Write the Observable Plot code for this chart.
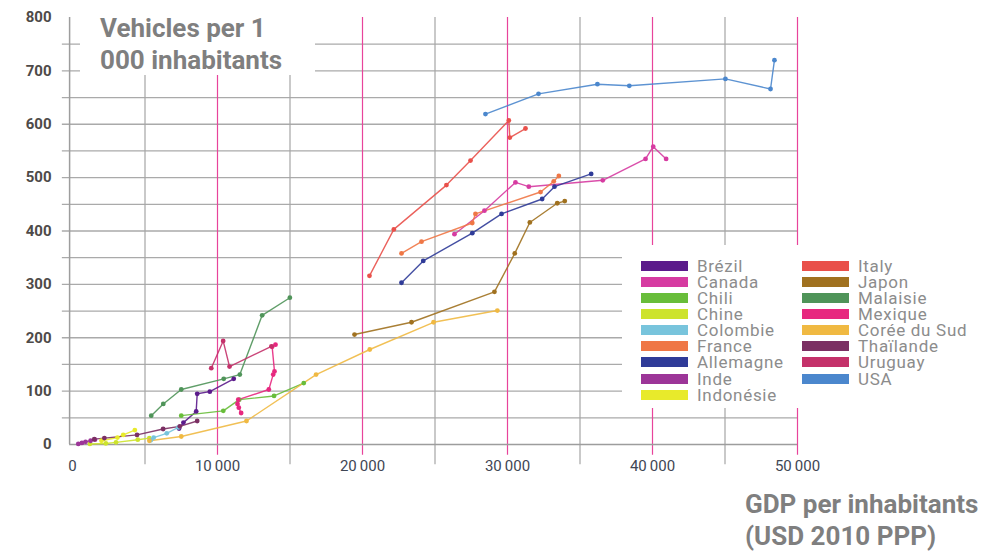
<!DOCTYPE html>
<html><head><meta charset="utf-8">
<script src="https://cdn.jsdelivr.net/npm/d3@7"></script>
<script src="https://cdn.jsdelivr.net/npm/@observablehq/plot@0.6"></script>
<style>
body{margin:0;background:#fff;}
#wrap{position:relative;width:991px;height:551px;overflow:hidden;font-family:Roboto,sans-serif;}
#chart{position:absolute;left:0;top:0;}
.box{position:absolute;background:#fff;}
.ttl{position:absolute;font-weight:700;color:#7f7f7f;font-size:26px;line-height:32px;white-space:nowrap;}
.sw{position:absolute;width:47px;height:10px;}
.lt{position:absolute;font-size:17px;letter-spacing:0.7px;color:#8c8c8c;line-height:16px;white-space:nowrap;}
</style></head>
<body>
<div id="wrap">
  <div id="chart"></div>
  <div class="box" style="left:80px;top:8px;width:235px;height:67px;"></div>
  <div class="ttl" style="left:100px;top:12px;">Vehicles per 1<br>000 inhabitants</div>
  <div class="ttl" style="left:745px;top:488px;">GDP per inhabitants<br>(USD 2010 PPP)</div>
  <div class="box" id="legend" style="left:622px;top:245px;width:369px;height:163px;"></div>
</div>
<script>
// Vehicles per 1000 inhabitants vs GDP per inhabitant (USD 2010 PPP)
const countries = ["Brézil","Canada","Chili","Chine","Colombie","France","Allemagne","Inde","Indonésie",
                   "Italy","Japon","Malaisie","Mexique","Corée du Sud","Thaïlande","Uruguay","USA"];
const colors = ["#5b1a8b","#d63ba1","#68bd3a","#cde32c","#78c4dc","#ef7746","#2f3b98","#9c3598","#e8ea2b",
                "#e9504a","#a0711f","#4f9459","#e7287f","#f0b942","#7b2f63","#c4316a","#4b87cd"];

// [GDP per inhabitant, vehicles per 1000]
const bresil    = [[7350,30],[7650,41],[8530,62],[8600,95],[9470,99],[11120,123]];
const canada    = [[26340,394],[28410,438],[30550,491],[31470,483],[36570,495],[39520,535],[40050,558],[40940,535]];
const chili     = [[7500,54],[10400,63],[11500,84],[13900,91],[15950,115]];
const chine     = [[1200,1],[2300,2],[3000,4],[4500,9],[5300,12]];
const colombie  = [[5400,8],[5600,13],[6500,21],[7300,32]];
const france    = [[22690,358],[24070,380],[27570,415],[27790,432],[32280,473],[33190,493],[33540,503]];
const allemagne = [[22690,303],[24190,344],[27570,396],[29590,432],[32390,460],[33240,483],[35770,507]];
const inde      = [[400,1],[650,3],[900,5],[1250,7],[1550,9]];
const indonesie = [[2000,7],[3100,13],[3500,18],[4300,27]];
const italy     = [[20480,316],[22160,403],[25790,486],[27450,532],[30090,607],[30160,575],[31240,592]];
const japon     = [[19450,206],[23380,229],[29100,286],[30500,358],[31540,416],[33430,452],[33950,456]];
const malaisie  = [[5430,54],[6260,76],[7500,103],[10430,123],[11540,131],[13080,242],[14990,275]];
const mexique   = [[11630,59],[11470,69],[11380,76],[11430,84],[13540,103],[13840,131],[13930,137],[13770,183],[14000,187]];
const coree     = [[5300,7],[7500,15],[12000,44],[16800,131],[20500,178],[24900,229],[29300,251]];
const thailande = [[1500,10],[2200,12],[4450,18],[6250,29],[7400,34],[8600,44]];
const uruguay   = [[9570,143],[10390,194],[10830,146],[13720,184]];
const usa       = [[28480,619],[32140,657],[36200,675],[38400,672],[45030,685],[48140,666],[48410,720]];

const series = [bresil,canada,chili,chine,colombie,france,allemagne,inde,indonesie,
                italy,japon,malaisie,mexique,coree,thailande,uruguay,usa];

const gridY = d3.range(50, 800, 50);
const grayX = [5000,15000,25000,35000,45000];
const magX  = [10000,20000,30000,40000,50000];
const yTicks = d3.range(0, 801, 100);
const xTicks = d3.range(0, 50001, 10000);

const data = countries.flatMap((c, i) => series[i].map(([gdp, veh]) => ({country: c, gdp, veh})));
const fmt = d => d === 0 ? "0" : d3.format(",")(d).replace(",", "\u2009");

const plot = Plot.plot({
  width: 991, height: 551,
  marginLeft: 72, marginRight: 194, marginTop: 17, marginBottom: 107,
  x: {domain: [0, 50000]},
  y: {domain: [0, 800]},
  color: {domain: countries, range: colors},
  style: {fontFamily: "Roboto, sans-serif", background: "transparent", overflow: "visible"},
  marks: [
    Plot.ruleY(gridY, {x1: -700, x2: 50000, stroke: "#aaaaaa", strokeWidth: 1.3}),
    Plot.ruleX(grayX, {y1: -38, y2: 800, stroke: "#a5a5a5", strokeWidth: 1.2}),
    Plot.ruleX(magX, {y1: -20, y2: 800, stroke: "#e8449b", strokeWidth: 1.2}),
    Plot.ruleY([0], {x1: -200, x2: 50000, stroke: "#9d9d9d", strokeWidth: 1.5}),
    Plot.ruleX([-200], {y1: 0, y2: 800, stroke: "#9d9d9d", strokeWidth: 1.5}),
    Plot.line(data, {x: "gdp", y: "veh", z: "country", stroke: "country", strokeWidth: 1.4, strokeOpacity: 0.9}),
    Plot.dot(data, {x: "gdp", y: "veh", fill: "country", r: 2.4}),
    Plot.axisY({ticks: yTicks, tickSize: 0, tickPadding: 21, fontSize: 15, fontWeight: "bold", fill: "#4e4a48", label: null}),
    Plot.axisX({ticks: xTicks, tickSize: 0, tickPadding: 16, fontSize: 15, fill: "#3f4654", label: null, tickFormat: fmt})
  ]
});
document.getElementById("chart").appendChild(plot);

// legend
const leg = document.getElementById("legend");
countries.forEach((c, i) => {
  const col = i < 9 ? 0 : 1, row = i < 9 ? i : i - 9;
  const top = 15.5 + row * 16.15;
  const sw = document.createElement("div");
  sw.className = "sw";
  sw.style.left = (col ? 180 : 19) + "px";
  sw.style.top = top + "px";
  sw.style.background = colors[i];
  leg.appendChild(sw);
  const t = document.createElement("div");
  t.className = "lt";
  t.style.left = (col ? 236 : 75) + "px";
  t.style.top = (top - 3) + "px";
  t.textContent = c;
  leg.appendChild(t);
});
</script>
</body></html>
